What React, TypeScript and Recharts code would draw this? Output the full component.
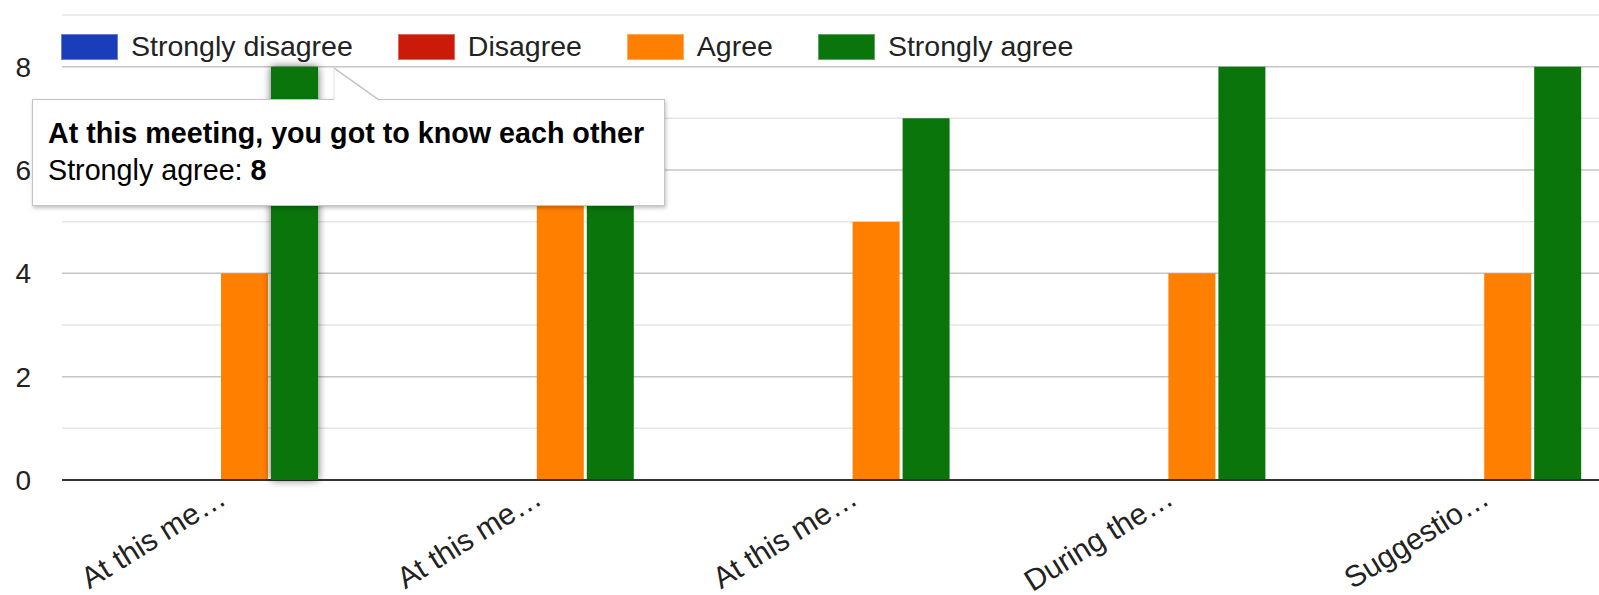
import { Bar, BarChart, ReferenceLine, Tooltip, XAxis, YAxis } from "recharts"

const FONT = "Arial, 'Liberation Sans', sans-serif"

// survey questions (only the first one is readable in full, the rest are cut off)
const questions = [
    "At this meeting, you got to know each other",
    "At this me…",
    "At this me…",
    "During the…",
    "Suggestio…",
]
const tickLabels = ["At this me…", "At this me…", "At this me…", "During the…", "Suggestio…"]

const seriesNames = ["Strongly disagree", "Disagree", "Agree", "Strongly agree"]
const stronglyDisagree = [0, 0, 0, 0, 0]
const disagree = [0, 0, 0, 0, 0]
const agree = [4, 6, 5, 4, 4]
const stronglyAgree = [8, 6, 7, 8, 8]

const yTicks = [0, 1, 2, 3, 4, 5, 6, 7, 8, 9]
const majorLines = [2, 4, 6, 8]
const minorLines = [1, 3, 5, 7, 9]

const COLORS = {
    stronglyDisagree: "#1a3dbb",
    disagree: "#cc1a0a",
    agree: "#ff7f00",
    stronglyAgree: "#09750b",
}
const seriesKeys = ["stronglyDisagree", "disagree", "agree", "stronglyAgree"] as const

const chartData = tickLabels.map((label, i) => ({
    label,
    question: questions[i],
    stronglyDisagree: stronglyDisagree[i],
    disagree: disagree[i],
    agree: agree[i],
    stronglyAgree: stronglyAgree[i],
}))

// legend sits inside the plot area, above the 8 gridline, so it is drawn as an overlay
function SurveyLegend() {
    return (
        <div
            style={{
                position: "absolute",
                left: 61,
                top: 30,
                display: "flex",
                alignItems: "center",
                fontFamily: FONT,
                fontSize: 28.5,
                color: "#222",
                whiteSpace: "nowrap",
            }}
        >
            {seriesKeys.map((key, i) => (
                <div key={key} style={{ display: "flex", alignItems: "center", marginRight: 45 }}>
                    <span
                        style={{
                            display: "inline-block",
                            width: 55,
                            height: 24,
                            background: COLORS[key],
                            border: "1px solid rgba(255,255,255,0.35)",
                            marginRight: 13,
                        }}
                    />
                    <span>{seriesNames[i]}</span>
                </div>
            ))}
        </div>
    )
}

function QuestionTick({ x, y, payload }: any) {
    return (
        <g transform={`translate(${x + 8},${y + 23})`}>
            <text textAnchor="end" transform="rotate(-32)" fontFamily={FONT} fontSize={30} fill="#222">
                {payload.value}
            </text>
        </g>
    )
}

function QuestionTooltip({ active, payload }: any) {
    if (!active || !payload?.length) return null
    const entry = payload.find((p: any) => p.dataKey === "stronglyAgree") ?? payload[payload.length - 1]
    const row = entry.payload
    return (
        <div
            style={{
                position: "relative",
                width: 601,
                background: "#fff",
                border: "1px solid #c4c4c4",
                boxShadow: "1px 2px 4px rgba(0,0,0,0.25)",
                padding: "15px 15px 16px 15px",
                fontFamily: FONT,
                fontSize: 28.7,
                lineHeight: "37px",
                color: "#000",
                whiteSpace: "nowrap",
            }}
        >
            <svg style={{ position: "absolute", left: 301, top: -32, overflow: "visible" }} width={46} height={33}>
                <polygon points="0,0 0,33 46,33" fill="#fff" />
                <polyline points="0,0 45,32" stroke="#bdbdbd" strokeWidth={1.5} fill="none" />
                <polyline points="0,0 0,32" stroke="#e0e0e0" strokeWidth={1} fill="none" />
            </svg>
            <div style={{ fontWeight: 700 }}>{row.question}</div>
            <div>
                {entry.name}: <b>{entry.value}</b>
            </div>
        </div>
    )
}

export default function App() {
    return (
        <div style={{ position: "fixed", left: 0, top: 0, width: 1599, height: 595, overflow: "hidden", background: "#fff" }}>
            <BarChart
                width={1641}
                height={595}
                data={chartData}
                margin={{ top: 15, right: 0, bottom: 0, left: 0 }}
                barGap={3}
                barSize={47}
            >
                {minorLines.map((v) => (
                    <ReferenceLine key={`minor-${v}`} y={v} stroke="#e6e6e6" strokeWidth={1.5} zIndex={-100} />
                ))}
                {majorLines.map((v) => (
                    <ReferenceLine key={`major-${v}`} y={v} stroke="#c6c6c6" strokeWidth={1.5} zIndex={-100} />
                ))}
                <XAxis
                    dataKey="label"
                    height={115}
                    tickLine={false}
                    tickSize={0}
                    tickMargin={0}
                    axisLine={{ stroke: "#333", strokeWidth: 2 }}
                    tick={<QuestionTick />}
                    interval={0}
                />
                <YAxis
                    width={62}
                    domain={[0, 9]}
                    ticks={yTicks}
                    interval={0}
                    axisLine={false}
                    tickLine={false}
                    tickSize={0}
                    tickMargin={31}
                    tick={{ fill: "#222", fontSize: 28, fontFamily: FONT }}
                    tickFormatter={(v) => (v % 2 === 0 ? String(v) : "")}
                />
                <Tooltip
                    defaultIndex={0}
                    active
                    cursor={false}
                    isAnimationActive={false}
                    position={{ x: 32, y: 99 }}
                    content={<QuestionTooltip />}
                />
                <Bar dataKey="stronglyDisagree" name={seriesNames[0]} fill={COLORS.stronglyDisagree} isAnimationActive={false} activeBar={false} />
                <Bar dataKey="disagree" name={seriesNames[1]} fill={COLORS.disagree} isAnimationActive={false} activeBar={false} />
                <Bar dataKey="agree" name={seriesNames[2]} fill={COLORS.agree} isAnimationActive={false} activeBar={false} />
                <Bar
                    dataKey="stronglyAgree"
                    name={seriesNames[3]}
                    fill={COLORS.stronglyAgree}
                    isAnimationActive={false}
                    activeBar={{ style: { filter: "drop-shadow(0px 0px 4px rgba(0,0,0,0.6))" } }}
                />
            </BarChart>
            <SurveyLegend />
        </div>
    )
}
